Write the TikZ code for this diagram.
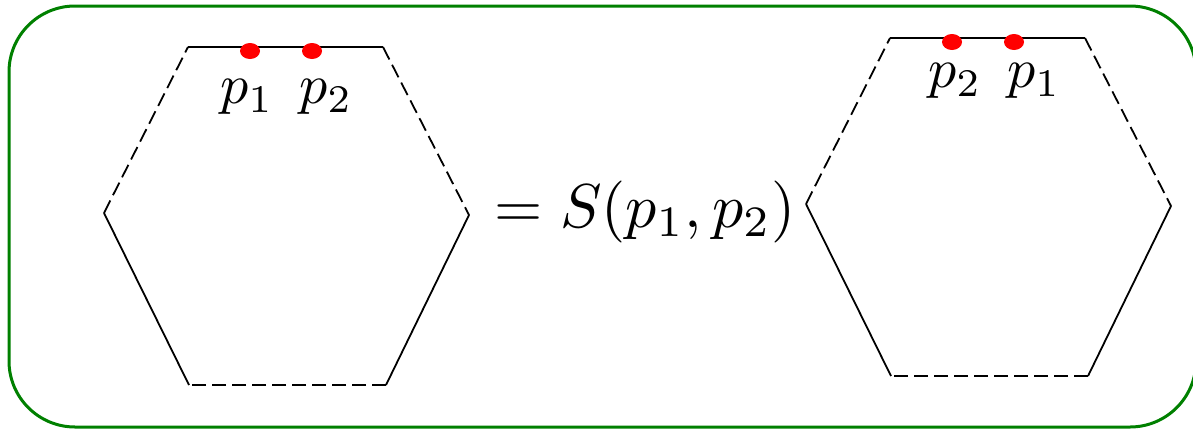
\documentclass[tikz,border=0pt]{standalone}
\usepackage{amsmath}
\usetikzlibrary{positioning}

\begin{document}
\begin{tikzpicture}[x=0.5pt, y=-0.5pt,
        plabel/.style={scale=2.8},
        sideline/.style={line width=0.9pt},
        dashline/.style={line width=0.9pt, dash pattern=on 7pt off 3pt},
        pdot/.style={fill=red}]
        \useasboundingbox (0,0) rectangle (1193,428);
        \draw[green!50!black, line width=1.5pt, rounded corners=33pt] (9,6) rectangle (1196,427);
        % the two hexagons, same edge pattern
        \foreach \h/\dx/\dy in {l/0/0, r/702/-9} {
            \begin{scope}[shift={(\dx,\dy)}]
                \coordinate (\h a) at (188,47);
                \coordinate (\h b) at (383,47);
                \coordinate (\h c) at (469,215);
                \coordinate (\h d) at (386,385);
                \coordinate (\h e) at (189,385);
                \coordinate (\h f) at (104,213);
                \coordinate (\h x) at (250,51);
                \coordinate (\h y) at (312,51);
            \end{scope}
            \draw[sideline] (\h a) -- (\h b);
            \draw[dashline] (\h b) -- (\h c);
            \draw[sideline] (\h c) -- (\h d);
            \draw[dashline] (\h d) -- (\h e);
            \draw[sideline] (\h e) -- (\h f);
            \draw[dashline] (\h f) -- (\h a);
            \fill[pdot] (\h x) ellipse [x radius=5pt, y radius=4pt];
            \fill[pdot] (\h y) ellipse [x radius=5pt, y radius=4pt];
        }
        \node[plabel] (lp1) at (247,97) {$p_1$};
        \node[plabel] (lp2) at (326,97) {$p_2$};
        \node[plabel] (rp2) at (955,81) {$p_2$};
        \node[plabel] (rp1) at (1034,81) {$p_1$};
        \node[scale=3.1] (eq) at (645,212) {$=S(p_1,p_2)$};
    \end{tikzpicture}
\end{document}
